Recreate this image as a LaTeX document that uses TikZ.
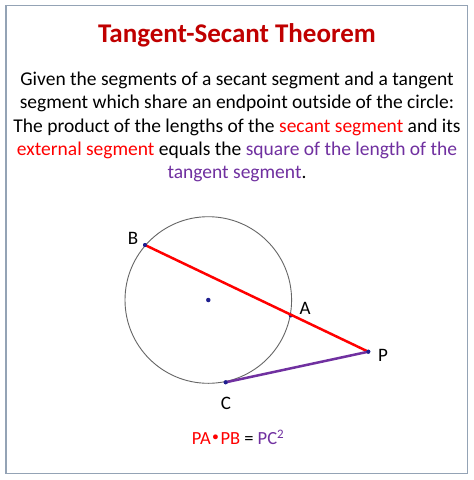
\documentclass[tikz,border=0pt]{standalone}
\usepackage{fontspec}
\setmainfont{Carlito}
\definecolor{titlered}{HTML}{C00000}
\definecolor{segred}{HTML}{FF0000}
\definecolor{tanpurple}{HTML}{7030A0}
\definecolor{framegray}{HTML}{94A3B5}
\definecolor{ptblue}{HTML}{1F1F8F}
\tikzset{
  lbl/.style={font=\fontsize{19}{22}\selectfont, inner sep=0pt},
  pt/.style={circle, fill=ptblue, inner sep=0pt, minimum size=4pt},
}
\begin{document}
\begin{tikzpicture}[x=1pt,y=-1pt]
\useasboundingbox (0,0) rectangle (474,480);
\fill[white] (0,0) rectangle (474,480);
\draw[framegray, line width=1.5pt] (6,5.5) rectangle (467.5,473.5);
\node[font=\bfseries\fontsize{27}{30}\selectfont, text=titlered] (title) at (237,35) {Tangent-Secant Theorem};
\node[align=center, font=\fontsize{19.5}{23.3}\selectfont, inner sep=0pt] (body) at (237,127)
 {Given the segments of a secant segment and a tangent\\
  segment which share an endpoint outside of the circle:\\
  The product of the lengths of the \textcolor{segred}{secant segment} and its\\
  \textcolor{segred}{external segment} equals the \textcolor{tanpurple}{square of the length of the}\\
  \textcolor{tanpurple}{tangent segment}.};
% geometry
\coordinate (O) at (208.3,300);
\draw[gray!80!black, line width=0.9pt] (O) circle (83.3);
\node[pt, minimum size=4.5pt] (center) at (O) {};
\node[pt] (B) at (145,245) {};
\node[pt] (A) at (290.7,315.5) {};
\node[pt] (P) at (368.3,351.7) {};
\node[pt] (C) at (225.7,382.3) {};
\draw[segred, line width=2.5pt] (B.center) -- (P.center);
\draw[tanpurple, line width=2.5pt] (C.center) -- (P.center);
\node[pt] at (B) {};
\node[pt] at (P) {};
\node[pt] at (C) {};
\node[lbl] (lB) at (133,238) {B};
\node[lbl] (lA) at (305,308) {A};
\node[lbl] (lP) at (383,355) {P};
\node[lbl] (lC) at (226,403) {C};
\node[font=\fontsize{18.5}{22}\selectfont, inner sep=0pt] (formula) at (238,437)
 {\textcolor{segred}{PA\raisebox{0.5pt}{\fontspec{DejaVu Sans}\scalebox{0.9}{•}}PB} = \textcolor{tanpurple}{PC\textsuperscript{2}}};
\end{tikzpicture}
\end{document}
